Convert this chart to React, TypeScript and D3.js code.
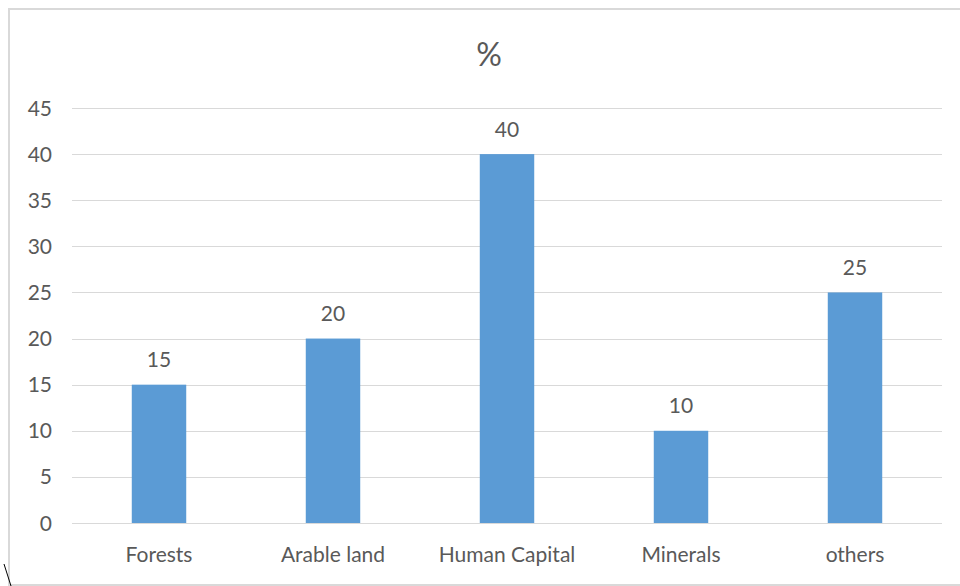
import React from 'react';
import * as d3 from 'd3';

const categories = ['Forests', 'Arable land', 'Human Capital', 'Minerals', 'others'];
const values = [15, 20, 40, 10, 25];
const yTicks = [0, 5, 10, 15, 20, 25, 30, 35, 40, 45];
const title = '%';

const width = 960;
const height = 586;
const margin = { top: 108, right: 18, bottom: 63, left: 72 };

const textColor = '#595959';
const gridColor = '#d9d9d9';
const barColor = '#5b9bd5';
const font = 'Lato, "Open Sans", sans-serif';

export default function App() {
  const x = d3.scaleBand<string>()
    .domain(categories)
    .range([margin.left, width - margin.right])
    .paddingInner(0.687)
    .paddingOuter(0.3435);

  const y = d3.scaleLinear()
    .domain([0, 45])
    .range([height - margin.bottom, margin.top]);

  return (
    <svg
      width={width}
      height={height}
      style={{ position: 'absolute', left: 0, top: 0, background: '#fff' }}
      fontFamily={font}
    >
      {/* chart frame */}
      <rect x={9} y={9} width={width} height={576} fill="none" stroke={gridColor} strokeWidth={2} />
      <line x1={4} y1={564} x2={11} y2={586} stroke="#000" strokeWidth={1} />

      <text x={489} y={66} textAnchor="middle" fontSize={32} fill={textColor}>{title}</text>

      {yTicks.map(t => (
        <g key={t}>
          <line
            x1={margin.left}
            x2={width - margin.right}
            y1={Math.round(y(t)) + 0.5}
            y2={Math.round(y(t)) + 0.5}
            stroke={gridColor}
            strokeWidth={1}
          />
          <text x={52} y={y(t) + 7.5} textAnchor="end" fontSize={21} fill={textColor}>{t}</text>
        </g>
      ))}

      {categories.map((c, i) => (
        <g key={c}>
          <rect
            x={x(c)}
            y={y(values[i])}
            width={x.bandwidth()}
            height={y(0) - y(values[i])}
            fill={barColor}
          />
          <text
            x={(x(c) ?? 0) + x.bandwidth() / 2}
            y={y(values[i]) - 17.5}
            textAnchor="middle"
            fontSize={21}
            fill={textColor}
          >
            {values[i]}
          </text>
          <text
            x={(x(c) ?? 0) + x.bandwidth() / 2}
            y={562}
            textAnchor="middle"
            fontSize={21}
            fill={textColor}
          >
            {c}
          </text>
        </g>
      ))}
    </svg>
  );
}
